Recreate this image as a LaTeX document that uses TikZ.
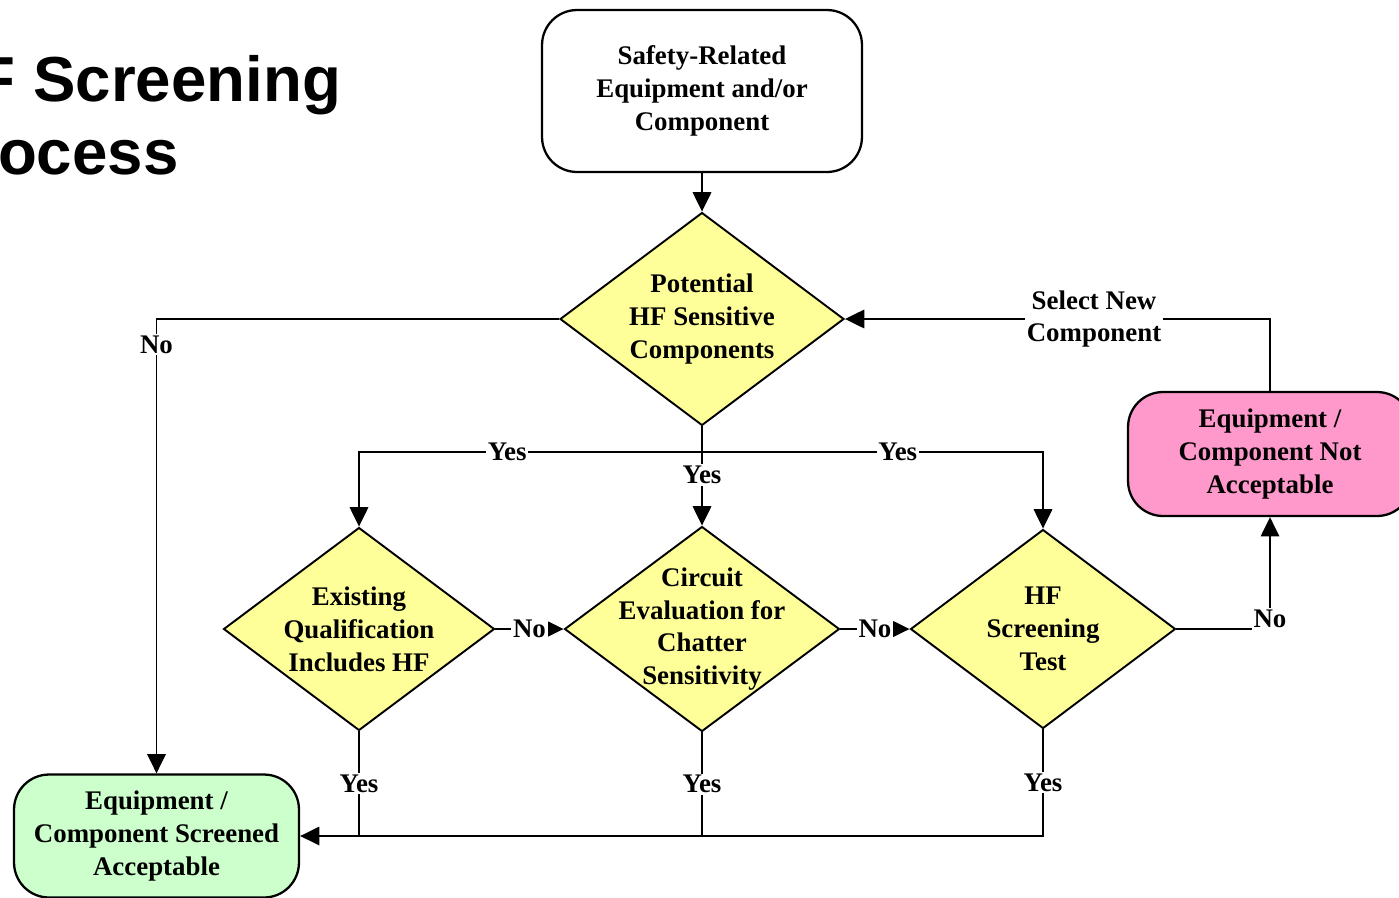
\documentclass[tikz,border=0pt]{standalone}
\usepackage{fontspec}
\setmainfont{Liberation Serif}
\newfontfamily\titlefont{Liberation Sans}
\usetikzlibrary{shapes.geometric, arrows.meta}
\definecolor{hfyellow}{HTML}{FFFF99}
\definecolor{hfpink}{HTML}{FF99CC}
\definecolor{hfgreen}{HTML}{CCFFCC}

\begin{document}
\begin{tikzpicture}[
    x=0.02cm, y=-0.02cm,
    ->,
    >={Triangle[length=11pt,width=10.5pt]},
    line width=1.1pt,
    box/.style={rectangle, rounded corners=0.7cm, draw, line width=1.3pt, inner sep=0pt,
                font=\bfseries\fontsize{15.3}{18.7}\selectfont, align=center},
    decision/.style={diamond, draw, line width=1.1pt, fill=hfyellow, inner sep=0pt},
    dtext/.style={font=\bfseries\fontsize{15.3}{18.7}\selectfont, align=center, inner sep=0pt},
    lbl/.style={fill=white, inner sep=1pt, font=\bfseries\fontsize{15.3}{18.7}\selectfont, align=center}
  ]
  \useasboundingbox (0,0) rectangle (1399,897);
  \clip (0,0) rectangle (1399,897);

  % --- TITULO ---
  \node[anchor=base west, align=left, inner sep=0pt,
        font=\titlefont\bfseries\fontsize{36.2}{41.4}\selectfont] (title) at (-70,174)
        {HF Screening\\Process};

  % --- NOS ---
  \node[box, minimum width=6.4cm, minimum height=3.24cm] (safety) at (702,91)
        {Safety-Related\\Equipment and/or\\Component};
  \node[decision, minimum width=5.68cm, minimum height=4.26cm,
        label={[dtext]center:Potential\\HF Sensitive\\Components}] (pot) at (702,319) {};
  \node[decision, minimum width=5.42cm, minimum height=4.06cm,
        label={[dtext]center:Existing\\Qualification\\Includes HF}] (exist) at (359,629) {};
  \node[decision, minimum width=5.5cm, minimum height=4.1cm,
        label={[dtext]center:Circuit\\Evaluation for\\Chatter\\Sensitivity}] (circ) at (702,629) {};
  \node[decision, minimum width=5.3cm, minimum height=3.98cm,
        label={[dtext]center:HF\\Screening\\Test}] (test) at (1043,629) {};
  \node[box, fill=hfpink, minimum width=5.68cm, minimum height=2.48cm] (reject) at (1270,454)
        {Equipment /\\Component Not\\Acceptable};
  \node[box, fill=hfgreen, minimum width=5.7cm, minimum height=2.46cm] (accept) at (156.5,836)
        {Equipment /\\Component Screened\\Acceptable};
  \coordinate (split) at (702,452);

  % --- LIGACOES ---
  \draw (safety.south) -- (pot.north);
  \draw (pot.west) -| (accept.north) node[lbl, pos=0.528] {No};
  \draw[-] (pot.south) -- (split);
  \draw (split) -| (exist.north) node[lbl, pos=0.284] {Yes};
  \draw (split) -| (test.north) node[lbl, pos=0.287] {Yes};
  \draw (split) -- (circ.north) node[lbl, pos=0.31] {Yes};

  \draw (exist.east) -- (circ.west) node[lbl, midway] {No};
  \draw (circ.east) -- (test.west) node[lbl, midway] {No};
  \draw (test.east) -| (reject.south) node[lbl, pos=0.544] {No};
  \draw (reject.north) |- (pot.east) node[lbl, pos=0.707] {Select New\\Component};

  % --- RETORNO ACEITAVEL ---
  \draw (test.south) |- (accept.east) node[lbl, pos=0.25] {Yes};
  \draw[-] (exist.south) -- (exist.south |- accept.east) node[lbl, midway] {Yes};
  \draw[-] (circ.south) -- (circ.south |- accept.east) node[lbl, midway] {Yes};

\end{tikzpicture}
\end{document}
